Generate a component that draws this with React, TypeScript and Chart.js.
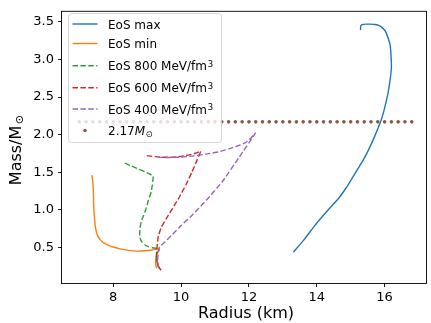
import { useEffect, useRef } from "react";
import { Chart, registerables } from "chart.js";

Chart.register(...registerables);

// ---- data (radius in km, mass in solar masses) ----
const maxRadius = [13.31, 13.62, 13.96, 14.34, 14.64, 14.88, 15.03, 15.22, 15.38, 15.53, 15.71, 15.88, 15.97, 16.03, 16.10, 16.16, 16.20, 16.19, 16.16, 16.10, 16.03, 15.94, 15.84, 15.72, 15.59, 15.46, 15.35, 15.30, 15.29];
const maxMass = [0.435, 0.60, 0.80, 1.00, 1.15, 1.30, 1.41, 1.55, 1.67, 1.80, 1.98, 2.17, 2.30, 2.41, 2.55, 2.72, 2.89, 3.05, 3.20, 3.29, 3.37, 3.42, 3.45, 3.465, 3.47, 3.47, 3.465, 3.45, 3.39];

const minRadius = [7.37, 7.39, 7.41, 7.42, 7.43, 7.45, 7.47, 7.50, 7.55, 7.62, 7.72, 7.85, 8.00, 8.20, 8.45, 8.70, 8.95, 9.15, 9.34, 9.30, 9.26, 9.25, 9.28];
const minMass = [1.46, 1.40, 1.30, 1.15, 1.00, 0.88, 0.79, 0.71, 0.65, 0.60, 0.56, 0.53, 0.505, 0.48, 0.46, 0.45, 0.455, 0.465, 0.48, 0.42, 0.35, 0.29, 0.22];

const eos800Radius = [8.34, 9.17, 9.12, 9.04, 8.97, 8.90, 8.83, 8.79, 8.78, 8.80, 8.85, 8.93, 9.03, 9.15, 9.36, 9.30, 9.27, 9.32, 9.41];
const eos800Mass = [1.62, 1.45, 1.24, 1.13, 1.02, 0.93, 0.85, 0.76, 0.675, 0.61, 0.57, 0.535, 0.51, 0.495, 0.48, 0.42, 0.35, 0.25, 0.196];

const eos600Radius = [8.99, 9.36, 9.75, 10.00, 10.24, 10.45, 10.58, 10.48, 10.32, 10.14, 9.95, 9.75, 9.56, 9.41, 9.33, 9.30, 9.28, 9.27, 9.32, 9.41];
const eos600Mass = [1.72, 1.70, 1.70, 1.71, 1.73, 1.755, 1.78, 1.67, 1.50, 1.33, 1.17, 1.02, 0.88, 0.76, 0.65, 0.545, 0.45, 0.37, 0.25, 0.196];

const eos400Radius = [9.31, 9.60, 9.95, 10.35, 10.73, 11.10, 11.41, 11.70, 11.89, 12.05, 12.19, 11.70, 11.21, 10.75, 10.34, 10.00, 9.75, 9.52, 9.36, 9.31, 9.33, 9.41];
const eos400Mass = [1.70, 1.695, 1.70, 1.715, 1.74, 1.77, 1.81, 1.855, 1.89, 1.95, 2.02, 1.69, 1.37, 1.13, 0.935, 0.79, 0.675, 0.57, 0.50, 0.35, 0.26, 0.196];

const LIMIT_MASS = 2.17;
const limitRadius = [7.0, 7.2, 7.4, 7.6, 7.8, 8.0, 8.2, 8.4, 8.6, 8.8, 9.0, 9.2, 9.4, 9.6, 9.8, 10.0, 10.2, 10.4, 10.6, 10.8, 11.0, 11.2, 11.4, 11.6, 11.8, 12.0, 12.2, 12.4, 12.6, 12.8, 13.0, 13.2, 13.4, 13.6, 13.8, 14.0, 14.2, 14.4, 14.6, 14.8, 15.0, 15.2, 15.4, 15.6, 15.8, 16.0, 16.2, 16.4, 16.6, 16.8];

const xTicks = [8, 10, 12, 14, 16];
const yTicks = [0.5, 1.0, 1.5, 2.0, 2.5, 3.0, 3.5];

const FONT = "'DejaVu Sans', sans-serif";
const C_BLUE = "#1f77b4";
const C_ORANGE = "#ff7f0e";
const C_GREEN = "#2ca02c";
const C_RED = "#d62728";
const C_PURPLE = "#9467bd";
const C_BROWN = "#8c564b";
const DASH = [5.5, 2.4];

const zip = (r: number[], m: number[]) => r.map((x, i) => ({ x, y: m[i] }));

type LegendRow = { kind: "line" | "dot"; color: string; dash: number[]; main: string; sup?: string; sun?: boolean };
const legendRows: LegendRow[] = [
  { kind: "line", color: C_BLUE, dash: [], main: "EoS max" },
  { kind: "line", color: C_ORANGE, dash: [], main: "EoS min" },
  { kind: "line", color: C_GREEN, dash: DASH, main: "EoS 800 MeV/fm", sup: "3" },
  { kind: "line", color: C_RED, dash: DASH, main: "EoS 600 MeV/fm", sup: "3" },
  { kind: "line", color: C_PURPLE, dash: DASH, main: "EoS 400 MeV/fm", sup: "3" },
  { kind: "dot", color: C_BROWN, dash: [], main: "2.17", sun: true },
];

const overlay = {
  id: "overlay",
  afterDatasetsDraw(chart: any) {
    const { ctx, chartArea: a } = chart;
    ctx.save();
    ctx.strokeStyle = "#000";
    ctx.lineWidth = 0.9;
    ctx.strokeRect(a.left - 0.5, a.top - 0.5, a.right - a.left, a.bottom - a.top + 1);
    ctx.restore();
  },
  afterDraw(chart: any) {
    const { ctx } = chart;
    ctx.save();
    // legend box
    const bx = 68.5, by = 13.5, bw = 153, bh = 129, r = 3;
    ctx.beginPath();
    ctx.moveTo(bx + r, by);
    ctx.arcTo(bx + bw, by, bx + bw, by + bh, r);
    ctx.arcTo(bx + bw, by + bh, bx, by + bh, r);
    ctx.arcTo(bx, by + bh, bx, by, r);
    ctx.arcTo(bx, by, bx + bw, by, r);
    ctx.closePath();
    ctx.fillStyle = "rgba(255,255,255,0.8)";
    ctx.fill();
    ctx.strokeStyle = "rgba(204,204,204,0.8)";
    ctx.lineWidth = 1;
    ctx.stroke();

    const rowY = [24, 43.5, 65.7, 87.7, 109, 130.5];
    const textX = 108;
    legendRows.forEach((row, i) => {
      const y = rowY[i];
      if (row.kind === "line") {
        ctx.beginPath();
        ctx.setLineDash(row.dash);
        ctx.strokeStyle = row.color;
        ctx.lineWidth = 1.4;
        ctx.moveTo(72.5, y);
        ctx.lineTo(97.5, y);
        ctx.stroke();
        ctx.setLineDash([]);
      } else {
        ctx.beginPath();
        ctx.fillStyle = row.color;
        ctx.arc(85, y, 1.8, 0, Math.PI * 2);
        ctx.fill();
      }
      ctx.fillStyle = "#000";
      ctx.textAlign = "left";
      ctx.textBaseline = "alphabetic";
      ctx.font = `12px ${FONT}`;
      const base = y + 4.6;
      ctx.fillText(row.main, textX, base);
      let x = textX + ctx.measureText(row.main).width;
      if (row.sup) {
        ctx.font = `8.5px ${FONT}`;
        ctx.fillText(row.sup, x + 0.8, base - 3.2);
      }
      if (row.sun) {
        ctx.font = `italic 12px ${FONT}`;
        ctx.fillText("M", x, base);
        x += ctx.measureText("M").width;
        ctx.font = `8.4px ${FONT}`;
        ctx.fillText("\u2299", x + 0.5, base + 1.8);
      }
    });

    // axis titles
    ctx.fillStyle = "#000";
    ctx.font = `16px ${FONT}`;
    ctx.textAlign = "center";
    ctx.textBaseline = "alphabetic";
    ctx.fillText("Radius (km)", 246, 318);

    ctx.translate(21, 150);
    ctx.rotate(-Math.PI / 2);
    ctx.font = `16px ${FONT}`;
    const w1 = ctx.measureText("Mass/M").width;
    ctx.font = `11.2px ${FONT}`;
    const w2 = ctx.measureText("\u2299").width;
    const gap = 1.5;
    const start = -(w1 + gap + w2) / 2;
    ctx.textAlign = "left";
    ctx.font = `16px ${FONT}`;
    ctx.fillText("Mass/M", start, 0);
    ctx.font = `11.2px ${FONT}`;
    ctx.fillText("\u2299", start + w1 + gap, 2.4);
    ctx.restore();
  },
};

export default function App() {
  const ref = useRef<HTMLCanvasElement | null>(null);
  useEffect(() => {
    if (!ref.current) return;
    const lineDs = (data: any, color: string, dash: number[], order: number, tension: number) => ({
      type: "scatter" as const,
      data,
      showLine: true,
      borderColor: color,
      backgroundColor: color,
      borderWidth: 1.4,
      borderDash: dash,
      pointRadius: 0,
      pointHoverRadius: 0,
      tension,
      order,
    });
    const chart = new Chart(ref.current, {
      type: "scatter",
      data: {
        datasets: [
          lineDs(zip(maxRadius, maxMass), C_BLUE, [], 5, 0.2),
          lineDs(zip(minRadius, minMass), C_ORANGE, [], 4, 0.2),
          lineDs(zip(eos800Radius, eos800Mass), C_GREEN, DASH, 3, 0.1),
          lineDs(zip(eos600Radius, eos600Mass), C_RED, DASH, 2, 0.1),
          lineDs(zip(eos400Radius, eos400Mass), C_PURPLE, DASH, 1, 0.1),
          {
            type: "scatter" as const,
            data: limitRadius.map((x) => ({ x, y: LIMIT_MASS })),
            showLine: false,
            pointRadius: 1.8,
            pointBorderWidth: 0,
            pointBackgroundColor: C_BROWN,
            backgroundColor: C_BROWN,
            borderColor: C_BROWN,
            order: 0,
          },
        ],
      },
      options: {
        animation: false,
        responsive: false,
        devicePixelRatio: 1,
        layout: { padding: { top: 7, right: 1, left: 0, bottom: 0 } },
        plugins: { legend: { display: false }, tooltip: { enabled: false } },
        events: [],
        scales: {
          x: {
            type: "linear",
            min: 6.49,
            max: 17.25,
            afterBuildTicks: (s: any) => {
              s.ticks = xTicks.map((v) => ({ value: v }));
            },
            afterFit: (s: any) => {
              s.height = 40;
            },
            grid: { drawOnChartArea: false, drawTicks: true, tickLength: 4, color: "#000", lineWidth: 0.9 },
            border: { display: false },
            ticks: {
              font: { family: FONT, size: 13 },
              color: "#000",
              padding: 3,
              maxRotation: 0,
              callback: (v: any) => String(v),
            },
          },
          y: {
            type: "linear",
            min: 0.026,
            max: 3.634,
            afterBuildTicks: (s: any) => {
              s.ticks = yTicks.map((v) => ({ value: v }));
            },
            afterFit: (s: any) => {
              s.width = 62;
            },
            grid: { drawOnChartArea: false, drawTicks: true, tickLength: 4, color: "#000", lineWidth: 0.9 },
            border: { display: false },
            ticks: {
              font: { family: FONT, size: 13 },
              color: "#000",
              padding: 4,
              callback: (v: any) => Number(v).toFixed(1),
            },
          },
        },
      },
      plugins: [overlay],
    } as any);
    return () => chart.destroy();
  }, []);
  return (
    <div style={{ position: "absolute", left: 0, top: 0, width: 431, height: 323, background: "#fff" }}>
      <canvas ref={ref} width={431} height={323} style={{ display: "block", width: 431, height: 323 }} />
    </div>
  );
}
